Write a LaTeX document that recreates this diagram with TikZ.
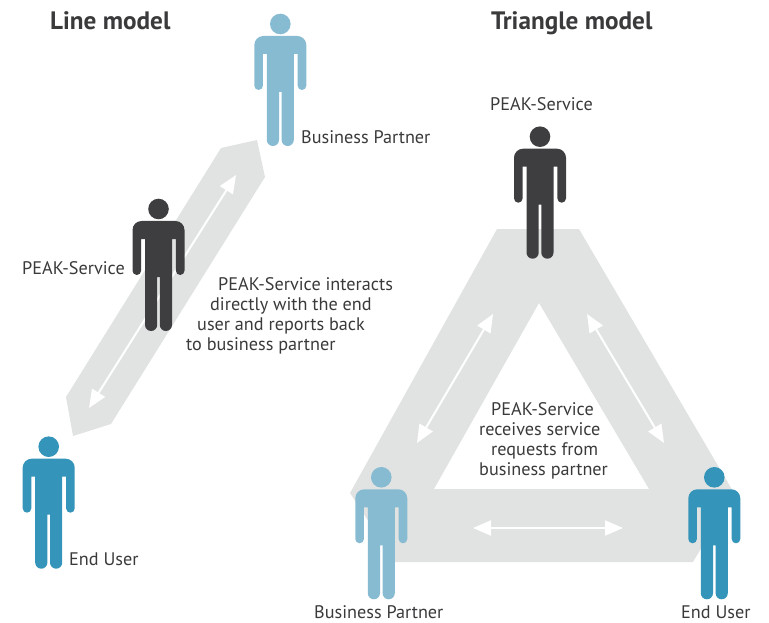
\documentclass[tikz,border=0pt]{standalone}
\usepackage{fontspec}
\setmainfont{PT Sans}
\usetikzlibrary{arrows.meta}
\definecolor{bandgray}{HTML}{E1E3E2}
\definecolor{peakdark}{HTML}{3E3E40}
\definecolor{partnerblue}{HTML}{87BBD2}
\definecolor{userteal}{HTML}{3494B9}
\definecolor{inktext}{HTML}{3A3A3C}
\tikzset{
  figure/.pic={
    \fill[pic actions] (0,0) circle[radius=10.3pt];
    \fill[pic actions] (-26,21) arc[start angle=180,end angle=90,radius=9pt] -- (17,12)
      arc[start angle=90,end angle=0,radius=9pt] -- (26,61.7)
      arc[start angle=0,end angle=-180,radius=4.3pt] -- (17.4,30) -- (13.5,30) -- (13.5,115.9)
      arc[start angle=0,end angle=-180,radius=6.1pt] -- (1.3,68) -- (-1.3,68) -- (-1.3,115.9)
      arc[start angle=0,end angle=-180,radius=6.1pt] -- (-13.5,30) -- (-17.4,30) -- (-17.4,61.7)
      arc[start angle=0,end angle=-180,radius=4.3pt] -- cycle;
  },
  band/.style={fill=bandgray,even odd rule},
  link/.style={draw=white,line width=2pt,{Triangle[length=18pt,width=15pt,fill=white]}-{Triangle[length=18pt,width=15pt,fill=white]}},
  label/.style={text=inktext,font=\fontsize{18.2}{20}\selectfont,inner sep=0pt,anchor=base west},
  note/.style={label,align=left},
  heading/.style={text=inktext,font=\fontsize{25.2}{26}\selectfont\bfseries,inner sep=0pt,anchor=base west},
}
\begin{document}
\begin{tikzpicture}[x=1pt,y=-1pt]
\useasboundingbox (0,0) rectangle (769,623);
% bands
\fill[band] (221,148) -- (257,140) -- (265,177) -- (111,424) -- (73,436) -- (66,397) -- cycle;
\fill[band] (497,229) -- (579,229) -- (734,493) -- (693,562) -- (395,562) -- (350,493) -- cycle
  (539,303) -- (434,489) -- (649,489) -- cycle;
% arrows
\coordinate (lineA) at (236,175);
\coordinate (lineB) at (89,408);
\coordinate (triLa) at (493,314);
\coordinate (triLb) at (417,443);
\coordinate (triRa) at (587,314);
\coordinate (triRb) at (664,443);
\coordinate (triBa) at (473,528);
\coordinate (triBb) at (623,528);
\draw[link] (lineA) -- (lineB);
\draw[link] (triLa) -- (triLb);
\draw[link] (triRa) -- (triRb);
\draw[link] (triBa) -- (triBb);
% figures
\pic[fill=partnerblue] (lineBP) at (280.3,24) {figure};
\pic[fill=peakdark] (linePS) at (158.5,209) {figure};
\pic[fill=userteal] (lineEU) at (48.7,446.7) {figure};
\pic[fill=peakdark] (triPS) at (540,136.7) {figure};
\pic[fill=partnerblue] (triBP) at (381.3,477.3) {figure};
\pic[fill=userteal] (triEU) at (714.3,477.3) {figure};
% labels
\node[heading] (titleL) at (50,30) {Line model};
\node[heading] (titleT) at (491,30) {Triangle model};
\node[label] (lblBP1) at (301,144) {Business Partner};
\node[label] (lblPS1) at (22,274) {PEAK-Service};
\node[label] (lblEU1) at (69,565) {End User};
\node[label] (lblPS2) at (490,111) {PEAK-Service};
\node[label] (lblBP2) at (314,618) {Business Partner};
\node[label] (lblEU2) at (681,618) {End User};
\node[note,anchor=north west] (noteL) at (186,277) {\hspace*{32pt}PEAK-Service interacts\\\hspace*{24pt}directly with the end\\\hspace*{11pt}user and reports back\\to business partner};
\node[note,anchor=north west] (noteT) at (479,402) {\hspace*{12pt}PEAK-Service\\receives service\\\hspace*{12pt}requests from\\business partner};
\end{tikzpicture}
\end{document}
